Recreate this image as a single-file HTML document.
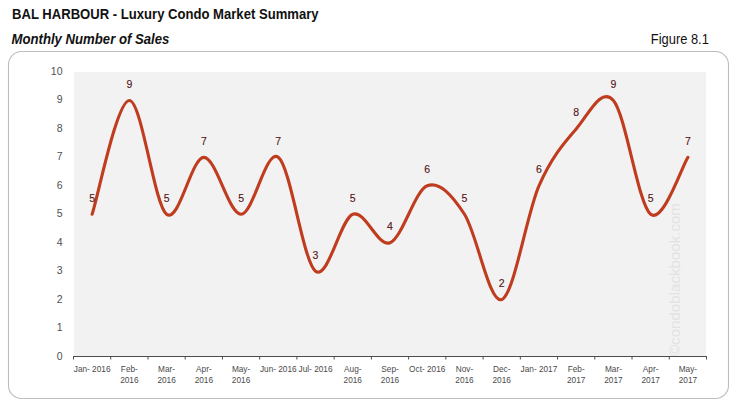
<!DOCTYPE html>
<html><head><meta charset="utf-8"><style>
html,body{margin:0;padding:0;background:#fff;}
body{width:741px;height:407px;overflow:hidden;position:relative;font-family:"Liberation Sans",sans-serif;}
.t{position:absolute;white-space:nowrap;color:#111;font-size:13px;line-height:1;}
svg{position:absolute;left:0;top:0;}
svg text{font-family:"Liberation Sans",sans-serif;}
</style></head><body>
<svg width="741" height="407" viewBox="0 0 741 407">
<text x="0" y="18.9" font-size="14" font-weight="bold" fill="#111" transform="translate(12 0) scale(0.935 1)">BAL HARBOUR - Luxury Condo Market Summary</text>
<text x="0" y="43.8" font-size="14" font-weight="bold" font-style="italic" fill="#111" transform="translate(11.5 0) scale(0.94 1)">Monthly Number of Sales</text>
<text x="0" y="43.8" font-size="14" text-anchor="end" fill="#111" transform="translate(708.8 0) scale(0.92 1)">Figure 8.1</text>
<rect x="8.5" y="51.5" width="720" height="347" rx="13" ry="13" fill="#fff" stroke="#bdbdbd" stroke-width="1.1"/>
<rect x="74" y="72" width="632" height="284.5" fill="#f2f2f2"/>
<text x="0" y="0" transform="translate(679.5 356) rotate(-90)" font-size="15.1" fill="#e2e2e2">©condoblackbook.com</text>
<path d="M73 356.5H707 M73.50 356.5V359.5M110.74 356.5V359.5M147.97 356.5V359.5M185.21 356.5V359.5M222.44 356.5V359.5M259.68 356.5V359.5M296.91 356.5V359.5M334.15 356.5V359.5M371.38 356.5V359.5M408.62 356.5V359.5M445.85 356.5V359.5M483.09 356.5V359.5M520.32 356.5V359.5M557.56 356.5V359.5M594.79 356.5V359.5M632.03 356.5V359.5M669.26 356.5V359.5M706.50 356.5V359.5" stroke="#4d4d4d" stroke-width="1" fill="none"/>
<text x="62.5" y="359.85" text-anchor="end" font-size="10.5" fill="#4f4f4f">0</text>
<text x="62.5" y="331.34" text-anchor="end" font-size="10.5" fill="#4f4f4f">1</text>
<text x="62.5" y="302.83" text-anchor="end" font-size="10.5" fill="#4f4f4f">2</text>
<text x="62.5" y="274.32" text-anchor="end" font-size="10.5" fill="#4f4f4f">3</text>
<text x="62.5" y="245.81" text-anchor="end" font-size="10.5" fill="#4f4f4f">4</text>
<text x="62.5" y="217.30" text-anchor="end" font-size="10.5" fill="#4f4f4f">5</text>
<text x="62.5" y="188.79" text-anchor="end" font-size="10.5" fill="#4f4f4f">6</text>
<text x="62.5" y="160.28" text-anchor="end" font-size="10.5" fill="#4f4f4f">7</text>
<text x="62.5" y="131.77" text-anchor="end" font-size="10.5" fill="#4f4f4f">8</text>
<text x="62.5" y="103.26" text-anchor="end" font-size="10.5" fill="#4f4f4f">9</text>
<text x="62.5" y="74.75" text-anchor="end" font-size="10.5" fill="#4f4f4f">10</text>
<text x="0" y="371.8" text-anchor="middle" font-size="9" fill="#4a4a4a" transform="translate(92.12 0) scale(0.92 1)">Jan- 2016</text>
<text x="0" y="371.8" text-anchor="middle" font-size="9" fill="#4a4a4a" transform="translate(129.35 0) scale(0.92 1)">Feb-</text>
<text x="0" y="382.6" text-anchor="middle" font-size="9" fill="#4a4a4a" transform="translate(129.35 0) scale(0.92 1)">2016</text>
<text x="0" y="371.8" text-anchor="middle" font-size="9" fill="#4a4a4a" transform="translate(166.59 0) scale(0.92 1)">Mar-</text>
<text x="0" y="382.6" text-anchor="middle" font-size="9" fill="#4a4a4a" transform="translate(166.59 0) scale(0.92 1)">2016</text>
<text x="0" y="371.8" text-anchor="middle" font-size="9" fill="#4a4a4a" transform="translate(203.82 0) scale(0.92 1)">Apr-</text>
<text x="0" y="382.6" text-anchor="middle" font-size="9" fill="#4a4a4a" transform="translate(203.82 0) scale(0.92 1)">2016</text>
<text x="0" y="371.8" text-anchor="middle" font-size="9" fill="#4a4a4a" transform="translate(241.06 0) scale(0.92 1)">May-</text>
<text x="0" y="382.6" text-anchor="middle" font-size="9" fill="#4a4a4a" transform="translate(241.06 0) scale(0.92 1)">2016</text>
<text x="0" y="371.8" text-anchor="middle" font-size="9" fill="#4a4a4a" transform="translate(278.29 0) scale(0.92 1)">Jun- 2016</text>
<text x="0" y="371.8" text-anchor="middle" font-size="9" fill="#4a4a4a" transform="translate(315.53 0) scale(0.92 1)">Jul- 2016</text>
<text x="0" y="371.8" text-anchor="middle" font-size="9" fill="#4a4a4a" transform="translate(352.76 0) scale(0.92 1)">Aug-</text>
<text x="0" y="382.6" text-anchor="middle" font-size="9" fill="#4a4a4a" transform="translate(352.76 0) scale(0.92 1)">2016</text>
<text x="0" y="371.8" text-anchor="middle" font-size="9" fill="#4a4a4a" transform="translate(390.00 0) scale(0.92 1)">Sep-</text>
<text x="0" y="382.6" text-anchor="middle" font-size="9" fill="#4a4a4a" transform="translate(390.00 0) scale(0.92 1)">2016</text>
<text x="0" y="371.8" text-anchor="middle" font-size="9" fill="#4a4a4a" transform="translate(427.24 0) scale(0.92 1)">Oct- 2016</text>
<text x="0" y="371.8" text-anchor="middle" font-size="9" fill="#4a4a4a" transform="translate(464.47 0) scale(0.92 1)">Nov-</text>
<text x="0" y="382.6" text-anchor="middle" font-size="9" fill="#4a4a4a" transform="translate(464.47 0) scale(0.92 1)">2016</text>
<text x="0" y="371.8" text-anchor="middle" font-size="9" fill="#4a4a4a" transform="translate(501.71 0) scale(0.92 1)">Dec-</text>
<text x="0" y="382.6" text-anchor="middle" font-size="9" fill="#4a4a4a" transform="translate(501.71 0) scale(0.92 1)">2016</text>
<text x="0" y="371.8" text-anchor="middle" font-size="9" fill="#4a4a4a" transform="translate(538.94 0) scale(0.92 1)">Jan- 2017</text>
<text x="0" y="371.8" text-anchor="middle" font-size="9" fill="#4a4a4a" transform="translate(576.18 0) scale(0.92 1)">Feb-</text>
<text x="0" y="382.6" text-anchor="middle" font-size="9" fill="#4a4a4a" transform="translate(576.18 0) scale(0.92 1)">2017</text>
<text x="0" y="371.8" text-anchor="middle" font-size="9" fill="#4a4a4a" transform="translate(613.41 0) scale(0.92 1)">Mar-</text>
<text x="0" y="382.6" text-anchor="middle" font-size="9" fill="#4a4a4a" transform="translate(613.41 0) scale(0.92 1)">2017</text>
<text x="0" y="371.8" text-anchor="middle" font-size="9" fill="#4a4a4a" transform="translate(650.65 0) scale(0.92 1)">Apr-</text>
<text x="0" y="382.6" text-anchor="middle" font-size="9" fill="#4a4a4a" transform="translate(650.65 0) scale(0.92 1)">2017</text>
<text x="0" y="371.8" text-anchor="middle" font-size="9" fill="#4a4a4a" transform="translate(687.88 0) scale(0.92 1)">May-</text>
<text x="0" y="382.6" text-anchor="middle" font-size="9" fill="#4a4a4a" transform="translate(687.88 0) scale(0.92 1)">2017</text>
<path d="M92.12 214.25 C98.32 195.28 116.94 100.45 129.35 100.45 C141.76 100.45 154.18 204.77 166.59 214.25 C179.00 223.73 191.41 157.35 203.82 157.35 C216.24 157.35 228.65 214.25 241.06 214.25 C253.47 214.25 265.88 147.87 278.29 157.35 C290.71 166.83 303.12 261.67 315.53 271.15 C327.94 280.63 340.35 218.99 352.76 214.25 C365.18 209.51 377.59 247.44 390.00 242.70 C402.41 237.96 414.82 190.54 427.24 185.80 C439.65 181.06 452.06 195.28 464.47 214.25 C476.88 233.22 489.29 304.34 501.71 299.60 C514.12 294.86 526.53 214.25 538.94 185.80 C551.35 157.35 563.76 143.12 576.18 128.90 C588.59 114.67 601.00 86.22 613.41 100.45 C625.82 114.67 638.24 204.77 650.65 214.25 C663.06 223.73 681.68 166.83 687.88 157.35" fill="none" stroke="#bf3c1e" stroke-width="3.1" stroke-linecap="round" stroke-linejoin="round"/>
<text x="92.12" y="201.75" text-anchor="middle" font-size="10.5" fill="#551212" stroke="#551212" stroke-width="0.12">5</text>
<text x="129.35" y="87.95" text-anchor="middle" font-size="10.5" fill="#551212" stroke="#551212" stroke-width="0.12">9</text>
<text x="166.59" y="201.75" text-anchor="middle" font-size="10.5" fill="#551212" stroke="#551212" stroke-width="0.12">5</text>
<text x="203.82" y="144.85" text-anchor="middle" font-size="10.5" fill="#551212" stroke="#551212" stroke-width="0.12">7</text>
<text x="241.06" y="201.75" text-anchor="middle" font-size="10.5" fill="#551212" stroke="#551212" stroke-width="0.12">5</text>
<text x="278.29" y="144.85" text-anchor="middle" font-size="10.5" fill="#551212" stroke="#551212" stroke-width="0.12">7</text>
<text x="315.53" y="258.65" text-anchor="middle" font-size="10.5" fill="#551212" stroke="#551212" stroke-width="0.12">3</text>
<text x="352.76" y="201.75" text-anchor="middle" font-size="10.5" fill="#551212" stroke="#551212" stroke-width="0.12">5</text>
<text x="390.00" y="230.20" text-anchor="middle" font-size="10.5" fill="#551212" stroke="#551212" stroke-width="0.12">4</text>
<text x="427.24" y="173.30" text-anchor="middle" font-size="10.5" fill="#551212" stroke="#551212" stroke-width="0.12">6</text>
<text x="464.47" y="201.75" text-anchor="middle" font-size="10.5" fill="#551212" stroke="#551212" stroke-width="0.12">5</text>
<text x="501.71" y="287.10" text-anchor="middle" font-size="10.5" fill="#551212" stroke="#551212" stroke-width="0.12">2</text>
<text x="538.94" y="173.30" text-anchor="middle" font-size="10.5" fill="#551212" stroke="#551212" stroke-width="0.12">6</text>
<text x="576.18" y="116.40" text-anchor="middle" font-size="10.5" fill="#551212" stroke="#551212" stroke-width="0.12">8</text>
<text x="613.41" y="87.95" text-anchor="middle" font-size="10.5" fill="#551212" stroke="#551212" stroke-width="0.12">9</text>
<text x="650.65" y="201.75" text-anchor="middle" font-size="10.5" fill="#551212" stroke="#551212" stroke-width="0.12">5</text>
<text x="687.88" y="144.85" text-anchor="middle" font-size="10.5" fill="#551212" stroke="#551212" stroke-width="0.12">7</text>
</svg>
</body></html>
